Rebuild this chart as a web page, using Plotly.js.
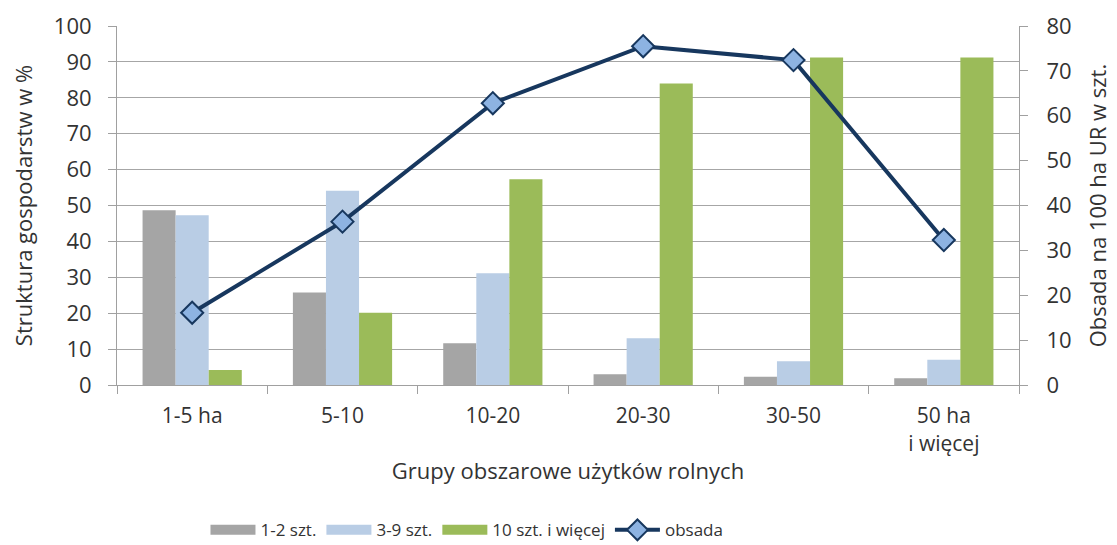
<!DOCTYPE html>
<html>
<head>
<meta charset="utf-8">
<script src="https://cdn.plot.ly/plotly-3.0.1.min.js"></script>
<style>html,body{margin:0;padding:0;background:#fff;}#chart{width:1117px;height:545px;}</style>
</head>
<body>
<div id="chart"></div>
<script>
const categories = ["1-5 ha", "5-10", "10-20", "20-30", "30-50", "50 ha<br>i więcej"];
const small = [48.7, 25.8, 11.6, 3.0, 2.3, 1.9];      // 1-2 szt.
const medium = [47.3, 54.1, 31.1, 13.0, 6.6, 7.0];    // 3-9 szt.
const large = [4.2, 20.1, 57.3, 84.0, 91.2, 91.2];    // 10 szt. i więcej
const obsada = [16.1, 36.4, 62.8, 75.5, 72.4, 32.3];  // obsada na 100 ha UR

const seriesNames = ['1-2 szt.', '3-9 szt.', '10 szt. i więcej', 'obsada'];
const barColors = ['#a5a5a5', '#b9cde5', '#9bbb59'];

const fontFam = '"Open Sans", "Noto Sans", sans-serif';
const txt = '#333333';

const barData = [small, medium, large];
const traces = [];
barData.forEach((vals, i) => {
  traces.push({type: 'bar', name: seriesNames[i], x: categories, y: vals,
               marker: {color: barColors[i]}, showlegend: false});
});
// legend swatches (wide rectangles like the original)
barData.forEach((vals, i) => {
  traces.push({type: 'scatter', mode: 'lines', name: seriesNames[i], x: [categories[0]], y: [null],
               line: {color: barColors[i], width: 10}, hoverinfo: 'skip'});
});
traces.push({type: 'scatter', mode: 'lines+markers', name: seriesNames[3], x: categories, y: obsada, yaxis: 'y2',
   line: {color: '#17375e', width: 4},
   marker: {symbol: 'diamond', size: 17, color: '#8db3e2', line: {color: '#17375e', width: 2}}});

const layout = {
  width: 1117, height: 545,
  margin: {l: 117, r: 98, t: 26, b: 160},
  paper_bgcolor: '#fff', plot_bgcolor: '#fff',
  font: {family: fontFam, color: txt, size: 19},
  barmode: 'group', bargap: 0.34, bargroupgap: 0,
  showlegend: true,
  legend: {orientation: 'h', xref: 'paper', x: 0.388, xanchor: 'center',
           yref: 'container', y: 0.06, yanchor: 'top',
           font: {size: 17, color: txt}, traceorder: 'normal', itemwidth: 45},
  xaxis: {
    type: 'category', tickson: 'boundaries', ticks: 'outside', ticklen: 8, tickcolor: '#a0a0a0',
    showline: true, linecolor: '#a0a0a0', linewidth: 1, showgrid: false,
    automargin: false, ticklabelstandoff: 12,
    tickfont: {size: 21, color: txt},
    title: {text: 'Grupy obszarowe użytków rolnych', font: {size: 22, color: txt}, standoff: 8}
  },
  yaxis: {
    range: [0, 100], dtick: 10, ticks: 'outside', ticklen: 8, tickcolor: '#a0a0a0',
    showline: true, linecolor: '#a0a0a0', showgrid: true, gridcolor: '#a6a6a6', gridwidth: 1,
    zeroline: false, tickfont: {size: 22, color: txt}, automargin: false, ticklabelstandoff: 12,
    title: {text: 'Struktura gospodarstw w %', font: {size: 22, color: txt}, standoff: 15}
  },
  yaxis2: {
    range: [0, 80], dtick: 10, overlaying: 'y', side: 'right', ticks: 'outside', ticklen: 8,
    tickcolor: '#a0a0a0', showline: true, linecolor: '#a0a0a0', showgrid: false, zeroline: false,
    tickfont: {size: 22, color: txt}, automargin: false, ticklabelstandoff: 14,
    title: {text: 'Obsada na 100 ha UR w szt.', font: {size: 22, color: txt}, standoff: 20}
  }
};

Plotly.newPlot('chart', traces, layout, {displayModeBar: false, staticPlot: true});
</script>
</body>
</html>
